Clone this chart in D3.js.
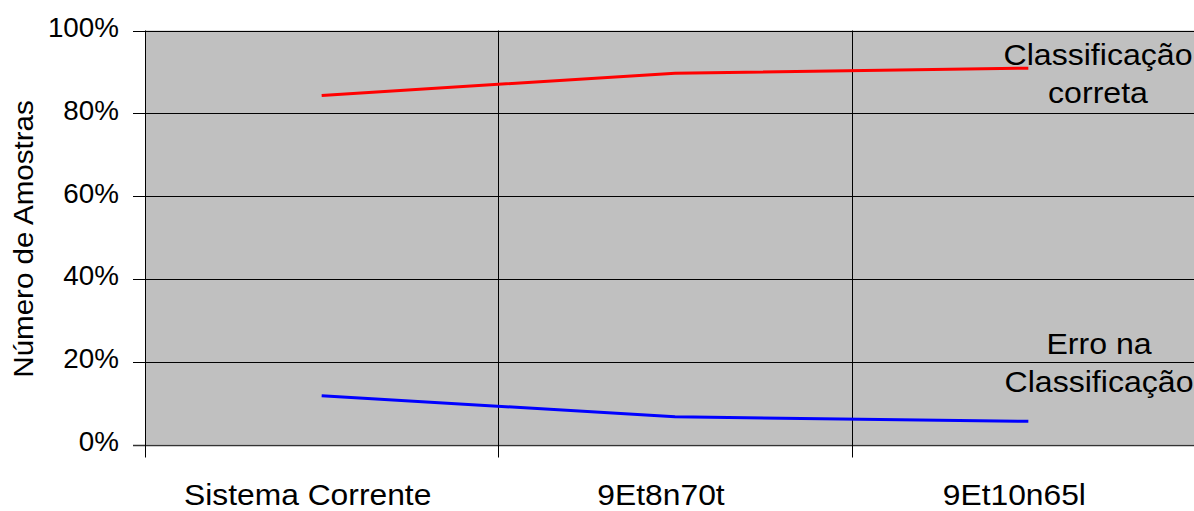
<!DOCTYPE html>
<html>
<head>
<meta charset="utf-8">
<script src="https://cdn.jsdelivr.net/npm/d3@7"></script>
<style>
  html, body { margin: 0; padding: 0; background: #fff; }
  svg { display: block; font-family: "Liberation Sans", Arial, sans-serif; }
</style>
</head>
<body>
<script>
// Categories and series (share of samples)
const categories = ["Sistema Corrente", "9Et8n70t", "9Et10n65l"];
const classificacaoCorreta = [0.843, 0.897, 0.909];
const erroClassificacao = [0.118, 0.067, 0.056];
const yTicks = [0, 0.2, 0.4, 0.6, 0.8, 1.0];
const seriesLabels = [["Classificação", "correta"], ["Erro na", "Classificação"]];

const W = 1194, H = 511;
const svg = d3.select("body").append("svg").attr("width", W).attr("height", H);

// Slightly wide lettering
const STRETCH = 1.06;
// Category labels sit a little left of the band centre
const LABEL_SHIFT = -14;

const x = d3.scaleBand().domain(categories).range([145, 1205]).paddingInner(0).paddingOuter(0);
const y = d3.scaleLinear().domain([0, 1]).range([444.5, 30.5]);

// Plot area
svg.append("rect")
  .attr("x", x.range()[0]).attr("y", y(1))
  .attr("width", x.range()[1] - x.range()[0]).attr("height", y(0) - y(1))
  .attr("fill", "#c0c0c0");

// Horizontal gridlines
svg.append("g").selectAll("line").data(yTicks).join("line")
  .attr("x1", 133).attr("x2", x.range()[1])
  .attr("y1", d => Math.round(y(d)) + 0.5).attr("y2", d => Math.round(y(d)) + 0.5)
  .attr("stroke", d => d === 0 ? "#333" : "#000").attr("stroke-width", d => d === 0 ? 1.5 : 1);

// Vertical category boundaries with ticks below the axis
const bounds = categories.map(c => x(c));
svg.append("g").selectAll("line").data(bounds).join("line")
  .attr("x1", d => Math.round(d) + 0.5).attr("x2", d => Math.round(d) + 0.5)
  .attr("y1", y(1)).attr("y2", 457.5)
  .attr("stroke", "#000").attr("stroke-width", 1);

// Y tick labels
svg.append("g").selectAll("text").data(yTicks).join("text")
  .attr("transform", d => `translate(119,${y(d) + 6.4}) scale(1.03,1)`)
  .attr("text-anchor", "end").attr("font-size", 27)
  .text(d => d3.format(".0%")(d));

// Category labels
svg.append("g").selectAll("text").data(categories).join("text")
  .attr("transform", d => `translate(${x(d) + x.bandwidth() / 2 + LABEL_SHIFT},504.5) scale(${STRETCH},1)`)
  .attr("text-anchor", "middle").attr("font-size", 30)
  .text(d => d);

// Y axis title
svg.append("text")
  .attr("transform", "translate(33,239) rotate(-90) scale(1.055,1)")
  .attr("text-anchor", "middle").attr("font-size", 28)
  .text("Número de Amostras");

// Series lines
const line = d3.line()
  .x((d, i) => x(categories[i]) + x.bandwidth() / 2)
  .y(d => y(d));

svg.append("path").datum(classificacaoCorreta)
  .attr("d", line).attr("fill", "none").attr("stroke", "#ff0000").attr("stroke-width", 3);
svg.append("path").datum(erroClassificacao)
  .attr("d", line).attr("fill", "none").attr("stroke", "#0000ff").attr("stroke-width", 3);

// Series annotations
const annot = [
  { lines: seriesLabels[0], x: 1098, y: 65 },
  { lines: seriesLabels[1], x: 1099, y: 354 }
];
annot.forEach(a => {
  a.lines.forEach((s, i) => {
    svg.append("text")
      .attr("transform", `translate(${a.x},${a.y + i * 38}) scale(1.07,1)`)
      .attr("text-anchor", "middle").attr("font-size", 30)
      .text(s);
  });
});
</script>
</body>
</html>
